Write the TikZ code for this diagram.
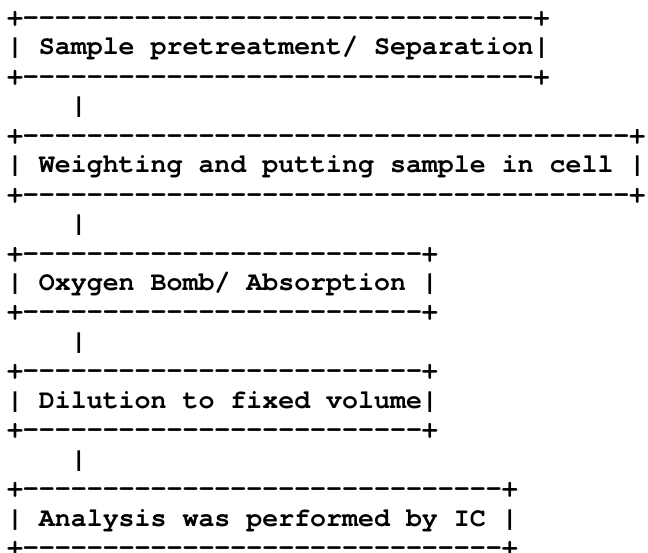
\documentclass[tikz,border=0pt]{standalone}
\usepackage{fontspec}
\setmonofont{TeX Gyre Cursor}[Ligatures={NoCommon,NoRequired,NoContextual}]
\newcommand\dashrow[1]{+\foreach\k in {1,...,#1}{-}+}
\begin{document}
\begin{tikzpicture}[x=1bp,y=-1bp,
  asciiline/.style={anchor=base west, inner sep=0pt, outer sep=0pt,
    font=\ttfamily\bfseries\fontsize{26.6bp}{29.44bp}\selectfont, text=black}]
\fill[white] (0,0) rectangle (648,553);
\useasboundingbox (0,0) rectangle (648,553);
% box 1
\node[asciiline] (l1)  at (7,25.56)  {\dashrow{32}};
\node[asciiline] (l2)  at (7,55.00)  {| Sample pretreatment/ Separation|};
\node[asciiline] (l3)  at (7,84.44)  {\dashrow{32}};
\node[asciiline] (l4)  at (7,113.88) {~~~~|};
% box 2
\node[asciiline] (l5)  at (7,143.32) {\dashrow{38}};
\node[asciiline] (l6)  at (7,172.76) {| Weighting and putting sample in cell |};
\node[asciiline] (l7)  at (7,202.20) {\dashrow{38}};
\node[asciiline] (l8)  at (7,231.64) {~~~~|};
% box 3
\node[asciiline] (l9)  at (7,261.08) {\dashrow{25}};
\node[asciiline] (l10) at (7,290.52) {| Oxygen Bomb/ Absorption |};
\node[asciiline] (l11) at (7,319.96) {\dashrow{25}};
\node[asciiline] (l12) at (7,349.40) {~~~~|};
% box 4
\node[asciiline] (l13) at (7,378.84) {\dashrow{25}};
\node[asciiline] (l14) at (7,408.28) {| Dilution to fixed volume|};
\node[asciiline] (l15) at (7,437.72) {\dashrow{25}};
\node[asciiline] (l16) at (7,467.16) {~~~~|};
% box 5
\node[asciiline] (l17) at (7,496.60) {\dashrow{30}};
\node[asciiline] (l18) at (7,526.04) {| Analysis was performed by IC |};
\node[asciiline] (l19) at (7,555.48) {\dashrow{30}};
\end{tikzpicture}
\end{document}
